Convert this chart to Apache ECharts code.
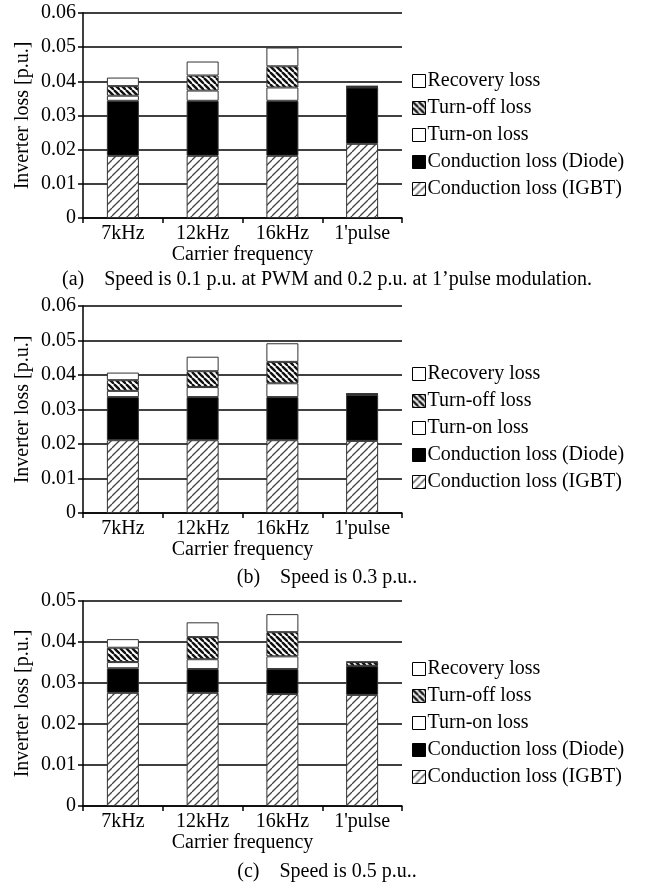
<!DOCTYPE html>
<html>
<head>
<meta charset="utf-8">
<script src="https://cdn.jsdelivr.net/npm/echarts@6/dist/echarts.min.js"></script>
<style>html,body{margin:0;padding:0;background:#fff;}#c{width:654px;height:886px;}</style>
</head>
<body>
<div id="c"></div>
<script>
// ---- data ----
const categories = ['7kHz', '12kHz', '16kHz', "1'pulse"];
const seriesNames = ['Conduction loss (IGBT)', 'Conduction loss (Diode)', 'Turn-on loss', 'Turn-off loss', 'Recovery loss'];
const legendOrder = ['Recovery loss', 'Turn-off loss', 'Turn-on loss', 'Conduction loss (Diode)', 'Conduction loss (IGBT)'];

// (a) speed 0.1 p.u. PWM / 0.2 p.u. 1'pulse
const igbtA     = [0.0182, 0.0182, 0.0182, 0.0217];
const diodeA    = [0.0161, 0.0161, 0.0161, 0.0165];
const turnOnA   = [0.0015, 0.0030, 0.0039, 0.0001];
const turnOffA  = [0.0028, 0.0044, 0.0062, 0.0002];
const recoveryA = [0.0025, 0.0041, 0.0055, 0.0001];

// (b) speed 0.3 p.u.
const igbtB     = [0.0211, 0.0211, 0.0211, 0.0209];
const diodeB    = [0.0125, 0.0125, 0.0125, 0.0134];
const turnOnB   = [0.0018, 0.0029, 0.0040, 0.0001];
const turnOffB  = [0.0031, 0.0046, 0.0062, 0.0001];
const recoveryB = [0.0022, 0.0042, 0.0054, 0.0001];

// (c) speed 0.5 p.u.
const igbtC     = [0.0276, 0.0276, 0.0273, 0.0271];
const diodeC    = [0.0060, 0.0058, 0.0061, 0.0070];
const turnOnC   = [0.0015, 0.0024, 0.0031, 0.0001];
const turnOffC  = [0.0035, 0.0054, 0.0059, 0.0009];
const recoveryC = [0.0021, 0.0036, 0.0044, 0.0001];

const yTicksAB = [0, 0.01, 0.02, 0.03, 0.04, 0.05, 0.06];
const yTicksC  = [0, 0.01, 0.02, 0.03, 0.04, 0.05];

const captions = [
  "(a)    Speed is 0.1 p.u. at PWM and 0.2 p.u. at 1\u2019pulse modulation.",
  "(b)    Speed is 0.3 p.u..",
  "(c)    Speed is 0.5 p.u.."
];
const xName = 'Carrier frequency';
const yName = 'Inverter loss [p.u.]';

// ---- patterns ----
function makePattern(kind) {
  const c = document.createElement('canvas');
  const ctx = c.getContext('2d');
  if (kind === 'igbt') {
    const s = 8; c.width = s; c.height = s;
    ctx.fillStyle = '#fff'; ctx.fillRect(0, 0, s, s);
    ctx.strokeStyle = '#444'; ctx.lineWidth = 1.3;
    for (const o of [-s, 0, s]) { ctx.beginPath(); ctx.moveTo(o, s); ctx.lineTo(o + s, 0); ctx.stroke(); }
  } else if (kind === 'turnoff') {
    const s = 6; c.width = s; c.height = s;
    ctx.fillStyle = '#fff'; ctx.fillRect(0, 0, s, s);
    ctx.strokeStyle = '#111'; ctx.lineWidth = 2.4;
    for (const o of [-s, 0, s]) { ctx.beginPath(); ctx.moveTo(o, 0); ctx.lineTo(o + s, s); ctx.stroke(); }
  }
  return { image: c, repeat: 'repeat' };
}
const colors = {
  'Conduction loss (IGBT)': makePattern('igbt'),
  'Conduction loss (Diode)': '#000',
  'Turn-on loss': '#fff',
  'Turn-off loss': makePattern('turnoff'),
  'Recovery loss': '#fff'
};

const panels = [
  { data: [igbtA, diodeA, turnOnA, turnOffA, recoveryA], top: 13, height: 205, max: 0.06, legendTop: 66, capTop: 265 },
  { data: [igbtB, diodeB, turnOnB, turnOffB, recoveryB], top: 306, height: 207, max: 0.06, legendTop: 359, capTop: 563 },
  { data: [igbtC, diodeC, turnOnC, turnOffC, recoveryC], top: 601, height: 205, max: 0.05, legendTop: 654, capTop: 857 }
];

const font = 'Liberation Serif';
const grid = [], xAxis = [], yAxis = [], series = [], legend = [], title = [];
panels.forEach((p, i) => {
  grid.push({ left: 83, width: 319, top: p.top, height: p.height });
  xAxis.push({
    type: 'category', gridIndex: i, data: categories,
    name: xName, nameLocation: 'middle', nameGap: 24,
    nameTextStyle: { fontFamily: font, fontSize: 20, color: '#000' },
    axisLine: { lineStyle: { color: '#000', width: 1.5 } },
    axisTick: { show: true, length: 5, lineStyle: { color: '#000', width: 1.5 } },
    axisLabel: { fontFamily: font, fontSize: 20, color: '#000', margin: 6 }
  });
  yAxis.push({
    type: 'value', gridIndex: i, min: 0, max: p.max, interval: 0.01,
    name: yName, nameLocation: 'middle', nameGap: 50,
    nameTextStyle: { fontFamily: font, fontSize: 20, color: '#000' },
    axisLine: { show: true, lineStyle: { color: '#000', width: 1.5 } },
    axisTick: { show: true, length: 5, lineStyle: { color: '#000', width: 1.5 } },
    axisLabel: { fontFamily: font, fontSize: 20, color: '#000', margin: 7 },
    splitLine: { show: true, lineStyle: { color: '#000', width: 1.6 } }
  });
  seriesNames.forEach((name, k) => {
    series.push({
      name, type: 'bar', stack: 'p' + i, xAxisIndex: i, yAxisIndex: i,
      barWidth: 32, data: p.data[k],
      itemStyle: { color: colors[name], borderColor: '#333', borderWidth: 1 },
      emphasis: { disabled: true }, animation: false
    });
  });
  legend.push({
    data: legendOrder, orient: 'vertical', left: 407, top: p.legendTop,
    icon: 'rect', itemWidth: 13, itemHeight: 13, itemGap: 7,
    itemStyle: { borderColor: '#000', borderWidth: 1 },
    textStyle: { fontFamily: font, fontSize: 20, color: '#000', lineHeight: 20, padding: [0, 0, 0, -3] },
    selectedMode: false
  });
  title.push({
    text: captions[i], left: 'center', top: p.capTop,
    textStyle: { fontFamily: font, fontSize: 20, fontWeight: 'normal', color: '#000' }
  });
});

const chart = echarts.init(document.getElementById('c'), null, { renderer: 'canvas' });
chart.setOption({ animation: false, backgroundColor: '#fff', title, grid, xAxis, yAxis, series, legend });
</script>
</body>
</html>
